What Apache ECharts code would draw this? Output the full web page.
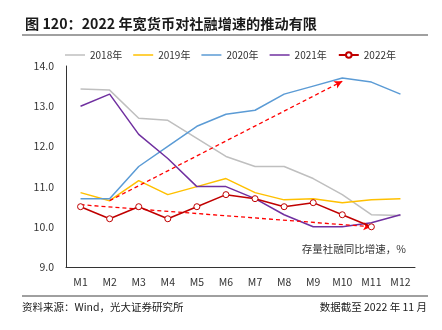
<!DOCTYPE html>
<html>
<head>
<meta charset="utf-8">
<script src="https://cdn.jsdelivr.net/npm/echarts@6/dist/echarts.min.js"></script>
<style>
  html, body { margin: 0; padding: 0; background: #fff; }
  #chart { width: 442px; height: 330px; }
</style>
</head>
<body>
<div id="chart"></div>
<script>
// 月份类目
const months = ['M1', 'M2', 'M3', 'M4', 'M5', 'M6', 'M7', 'M8', 'M9', 'M10', 'M11', 'M12'];

// 存量社融同比增速（%）
const y2018 = [13.43, 13.4, 12.7, 12.65, 12.2, 11.75, 11.5, 11.5, 11.2, 10.8, 10.3, 10.28];
const y2019 = [10.85, 10.65, 11.15, 10.8, 11.0, 11.2, 10.85, 10.67, 10.7, 10.6, 10.67, 10.7];
const y2020 = [10.7, 10.7, 11.5, 12.0, 12.5, 12.8, 12.9, 13.3, 13.5, 13.7, 13.6, 13.3];
const y2021 = [13.0, 13.3, 12.3, 11.7, 11.0, 11.0, 10.7, 10.3, 10.0, 10.0, 10.1, 10.3];
const y2022 = [10.5, 10.2, 10.5, 10.2, 10.5, 10.8, 10.7, 10.5, 10.6, 10.3, 10.0];

// 趋势箭头：[起点类目, 起点值, 终点类目, 终点值]
const trendUp = ['M2', 10.65, 'M10', 13.62];
const trendDown = ['M1', 10.55, 'M11', 10.0];

const seriesNames = ['2018年', '2019年', '2020年', '2021年', '2022年'];
const seriesColors = ['#BFBFBF', '#FFC000', '#5B9BD5', '#7030A0', '#C00000'];
const seriesData = [y2018, y2019, y2020, y2021, y2022];

const FONT = '"Noto Sans CJK SC", "Noto Sans", sans-serif';
const LINE_ICON = 'path://M0,0 H20 V1.5 H0 Z';

const chart = echarts.init(document.getElementById('chart'), null, { renderer: 'canvas' });

function arrow(t) {
  return [{ coord: [t[0], t[1]] }, { coord: [t[2], t[3]] }];
}

const series = seriesData.map((d, i) => {
  const isLast = i === seriesData.length - 1;
  const s = {
    name: seriesNames[i],
    type: 'line',
    data: d,
    color: seriesColors[i],
    lineStyle: { width: 1.5, color: seriesColors[i] },
    symbol: isLast ? 'circle' : 'none',
    symbolSize: 6,
    showSymbol: isLast,
    itemStyle: isLast
      ? { color: '#fff', borderColor: seriesColors[i], borderWidth: 1 }
      : { color: seriesColors[i] },
    z: isLast ? 5 : 3,
    silent: true
  };
  if (isLast) {
    s.markLine = {
      silent: true,
      symbol: ['none', 'arrow'],
      symbolSize: [6, 8],
      label: { show: false },
      lineStyle: { color: '#FF0000', type: [4, 3], width: 1.3 },
      itemStyle: { color: '#FF0000' },
      data: [arrow(trendUp), arrow(trendDown)]
    };
  }
  return s;
});

const legendData = seriesNames.map((n, i) =>
  i === seriesNames.length - 1 ? { name: n } : { name: n, icon: LINE_ICON });

chart.setOption({
  animation: false,
  backgroundColor: '#fff',
  textStyle: { fontFamily: FONT },
  title: {
    text: '图 120：2022 年宽货币对社融增速的推动有限',
    left: 20,
    top: 12,
    textStyle: { fontFamily: FONT, fontSize: 14.2, fontWeight: 'bold', color: '#1a1a1a' }
  },
  legend: {
    top: 45,
    left: 60,
    itemWidth: 20,
    itemHeight: 7,
    itemGap: 11,
    data: legendData,
    textStyle: { fontFamily: FONT, fontSize: 10, color: '#333' }
  },
  grid: { left: 66, right: 27, top: 66, bottom: 63, containLabel: false },
  xAxis: {
    type: 'category',
    data: months,
    boundaryGap: true,
    axisLine: { lineStyle: { color: '#333', width: 1 } },
    axisTick: { inside: true, length: 3, lineStyle: { color: '#333' } },
    axisLabel: { fontFamily: FONT, fontSize: 10.5, color: '#333', margin: 10 },
    splitLine: { show: false }
  },
  yAxis: {
    type: 'value',
    min: 9,
    max: 14,
    interval: 1,
    axisLine: { show: true, lineStyle: { color: '#333', width: 1 } },
    axisTick: { show: false },
    axisLabel: { fontFamily: FONT, fontSize: 10.5, color: '#333', margin: 12,
      formatter: v => v.toFixed(1) },
    splitLine: { show: false }
  },
  graphic: [
    { type: 'line', shape: { x1: 22, y1: 35, x2: 428, y2: 35 },
      style: { stroke: '#808080', lineWidth: 1.5 } },
    { type: 'line', shape: { x1: 22, y1: 296, x2: 428, y2: 296 },
      style: { stroke: '#404040', lineWidth: 1 } },
    { type: 'text', left: 22, top: 302,
      style: { text: '资料来源：Wind，光大证券研究所', font: '10.5px ' + FONT, fill: '#1a1a1a' } },
    { type: 'text', right: 15, top: 302,
      style: { text: '数据截至 2022 年 11 月', font: '10.5px ' + FONT, fill: '#1a1a1a' } },
    { type: 'text', right: 36, top: 244,
      style: { text: '存量社融同比增速，%', font: '10.5px ' + FONT, fill: '#333' } }
  ],
  series: series
});
</script>
</body>
</html>
